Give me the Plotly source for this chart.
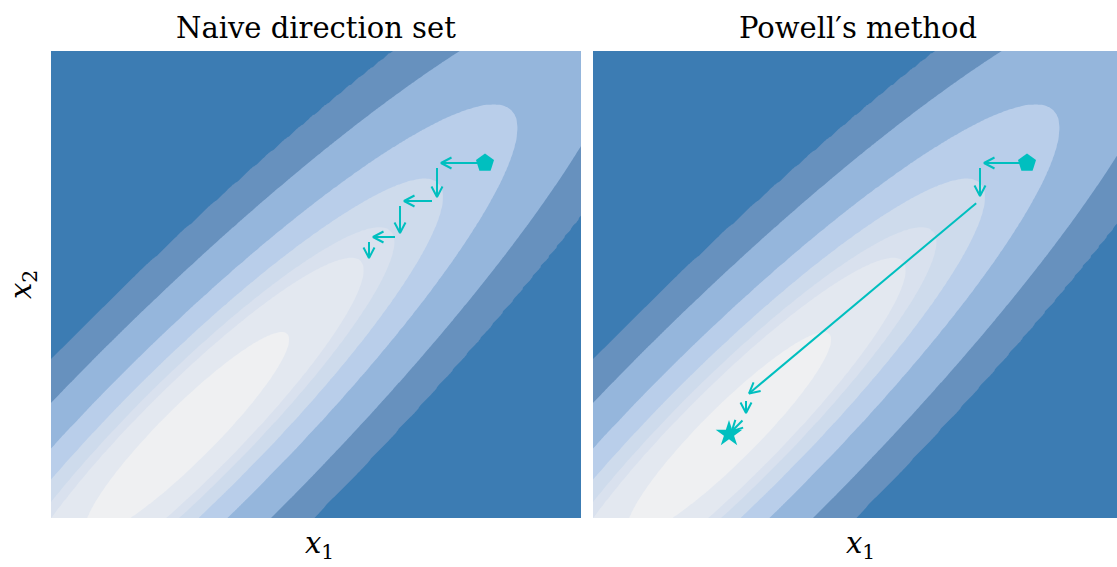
import numpy as np
import plotly.graph_objects as go

# ---- data ------------------------------------------------------------
# quadratic bowl f = a*dx^2 + 2*b*dx*dy + c*dy^2 around its minimum
x1_min, x2_min = 136.0, 84.0
quad_a, quad_b, quad_c = 1.0, -0.931, 1.005
levels = [1430, 4300, 5900, 9000, 15000, 27300, 42800]
band_colors = ["#eff0f2", "#e3e8f0", "#d9e1ee", "#cedbec",
               "#b9ceea", "#95b6dc", "#6791be", "#3c7cb3"]

x1_range = [0, 530]
x2_range = [0, 467]

naive_x1 = [434, 386, 386, 349, 349, 318, 318]
naive_x2 = [355, 355, 317, 317, 281, 281, 256]
powell_x1 = [434, 387, 387, 153, 153, 136]
powell_x2 = [355, 355, 318, 122, 101, 84]

titles = ["Naive direction set", "Powell\u2032s method"]
path_color = "#00bfbf"

# ---- surface ---------------------------------------------------------
gx = np.linspace(x1_range[0], x1_range[1], 266)
gy = np.linspace(x2_range[0], x2_range[1], 236)
GX, GY = np.meshgrid(gx, gy)
DX, DY = GX - x1_min, GY - x2_min
F = quad_a * DX**2 + 2 * quad_b * DX * DY + quad_c * DY**2
knots = [0.0] + levels + [float(F.max()) + 1.0]
Z = np.interp(F, knots, np.arange(len(knots)))

colorscale = [[k / (len(band_colors) - 1), c] for k, c in enumerate(band_colors)]

fig = go.Figure()

def add_contour(xa, ya):
    fig.add_trace(go.Contour(
        x=gx, y=gy, z=Z, xaxis=xa, yaxis=ya,
        autocontour=False,
        contours=dict(start=1, end=len(levels), size=1, coloring="fill", showlines=False),
        line=dict(width=0), colorscale=colorscale, showscale=False,
        hoverinfo="skip"))

def add_path(xs, ys, xa, ya, shrink_a=5.0, shrink_b=4.0, head_len=10.5, head_w=5.5):
    lx, ly = [], []
    for i in range(len(xs) - 1):
        p = np.array([xs[i], ys[i]], float)
        q = np.array([xs[i + 1], ys[i + 1]], float)
        d = q - p
        u = d / np.linalg.norm(d)
        n = np.array([-u[1], u[0]])
        s = p + shrink_a * u
        e = q - shrink_b * u
        w1 = e - head_len * u + head_w * n
        w2 = e - head_len * u - head_w * n
        lx += [s[0], e[0], None, w1[0], e[0], w2[0], None]
        ly += [s[1], e[1], None, w1[1], e[1], w2[1], None]
    fig.add_trace(go.Scatter(x=lx, y=ly, mode="lines", xaxis=xa, yaxis=ya,
                             line=dict(color=path_color, width=2),
                             hoverinfo="skip", showlegend=False))

add_contour("x", "y")
add_contour("x2", "y2")
add_path(naive_x1, naive_x2, "x", "y")
add_path(powell_x1, powell_x2, "x2", "y2")

fig.add_trace(go.Scatter(x=[naive_x1[0]], y=[naive_x2[0]], mode="markers", xaxis="x", yaxis="y",
                         marker=dict(symbol="pentagon", size=19, color=path_color, line=dict(width=0)),
                         showlegend=False, hoverinfo="skip"))
fig.add_trace(go.Scatter(x=[powell_x1[0]], y=[powell_x2[0]], mode="markers", xaxis="x2", yaxis="y2",
                         marker=dict(symbol="pentagon", size=19, color=path_color, line=dict(width=0)),
                         showlegend=False, hoverinfo="skip"))
fig.add_trace(go.Scatter(x=[powell_x1[-1]], y=[powell_x2[-1]], mode="markers", xaxis="x2", yaxis="y2",
                         marker=dict(symbol="star", size=20, color=path_color, line=dict(width=0)),
                         showlegend=False, hoverinfo="skip"))

W, H = 1117, 567
left_px = (51, 581)
right_px = (593, W)
top_px, bot_px = 51, 518
ydom = [1 - bot_px / H, 1 - top_px / H]

ax_common = dict(showgrid=False, zeroline=False, showticklabels=False, ticks="",
                 showline=False, fixedrange=True)
fig.update_layout(
    width=W, height=H, margin=dict(l=0, r=0, t=0, b=0),
    paper_bgcolor="white", plot_bgcolor="white", showlegend=False,
    xaxis=dict(domain=[left_px[0] / W, left_px[1] / W], range=x1_range, **ax_common),
    yaxis=dict(domain=ydom, range=x2_range, **ax_common),
    xaxis2=dict(domain=[right_px[0] / W, 1.0],
                range=[x1_range[0], x1_range[0] + (right_px[1] - right_px[0])], **ax_common),
    yaxis2=dict(domain=ydom, range=x2_range, anchor="x2", **ax_common),
)
fig.layout.xaxis2.anchor = "y2"

font_t = dict(family="DejaVu Serif", size=29, color="black")
font_l = dict(family="DejaVu Serif", size=29, color="black")
centers = [(left_px[0] + left_px[1]) / 2, (left_px[0] + left_px[1]) / 2 + 542]
ann = []
for c, t in zip(centers, titles):
    ann.append(dict(text=t, x=c / W, y=1 - 28 / H, xref="paper", yref="paper",
                    xanchor="center", yanchor="middle", showarrow=False, font=font_t))
    ann.append(dict(text="<i>x</i><sub>1</sub>", x=(c + 3) / W, y=1 - 545 / H,
                    xref="paper", yref="paper", xanchor="center", yanchor="middle",
                    showarrow=False, font=font_l))
ann.append(dict(text="<i>x</i><sub>2</sub>", x=23 / W, y=1 - 285 / H, xref="paper", yref="paper",
                xanchor="center", yanchor="middle", showarrow=False, textangle=-90, font=font_l))
fig.update_layout(annotations=ann)

fig.write_html("out.html")
